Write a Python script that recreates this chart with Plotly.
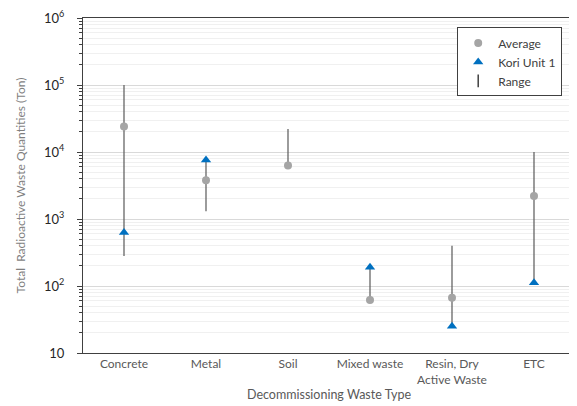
import plotly.graph_objects as go

categories = ["Concrete", "Metal", "Soil", "Mixed waste", "Resin, Dry<br>Active Waste", "ETC"]
average = [24000, 3800, 6300, 62, 67, 2200]
kori_unit1 = [630, 7600, None, 190, 25, 112]
range_low = [280, 1300, 6300, 62, 25, 112]
range_high = [100000, 7600, 22000, 190, 400, 10000]

tick_vals = [10, 100, 1000, 10000, 100000, 1000000]
tick_text = ["10", "10<sup>2</sup>", "10<sup>3</sup>", "10<sup>4</sup>", "10<sup>5</sup>", "10<sup>6</sup>"]

FONT = "Lato, 'Open Sans', sans-serif"

rx, ry = [], []
for c, lo, hi in zip(categories, range_low, range_high):
    rx += [c, c, None]
    ry += [lo, hi, None]

fig = go.Figure()
fig.add_trace(go.Scatter(x=rx, y=ry, mode="lines", line=dict(color="#595959", width=1.2),
                         showlegend=False, hoverinfo="skip"))
fig.add_trace(go.Scatter(x=categories, y=average, mode="markers", name="Average",
                         marker=dict(symbol="circle", size=8, color="#A5A5A5")))
fig.add_trace(go.Scatter(x=categories, y=kori_unit1, mode="markers", name="Kori Unit 1",
                         marker=dict(symbol="triangle-up", size=9, color="#0070C0")))
fig.add_trace(go.Scatter(x=[None], y=[None], mode="markers", name="Range",
                         marker=dict(symbol="line-ns", size=9, color="#404040",
                                     line=dict(color="#404040", width=1.5))))

# page body has an 8px default margin, so the figure is sized/offset to compensate
fig.update_layout(
    width=569, height=398,
    margin=dict(l=75, r=2, t=10, b=53),
    paper_bgcolor="white", plot_bgcolor="white",
    font=dict(family=FONT, size=12, color="#404040"),
    legend=dict(x=0.974, y=0.972, xanchor="right", yanchor="top",
                bgcolor="white", bordercolor="#404040", borderwidth=1,
                font=dict(size=12, color="#404040"), itemwidth=30,
                tracegroupgap=0),
    showlegend=True,
)
fig.update_xaxes(
    type="category", range=[-0.5, 5.5], showline=True, linecolor="#404040", linewidth=1, mirror=True,
    ticks="", showgrid=False, tickfont=dict(size=12, color="#595959"),
    title=dict(text="Decommissioning Waste Type", font=dict(size=12.5, color="#595959"), standoff=4),
    automargin=False,
)
fig.update_yaxes(
    type="log", range=[1, 6], showline=True, linecolor="#404040", linewidth=1,
    tickvals=tick_vals, ticktext=tick_text, ticks="outside", ticklen=5, tickcolor="#404040",
    ticklabelstandoff=10, ticklabeloverflow="allow",
    showgrid=True, gridcolor="#D9D9D9", gridwidth=1,
    minor=dict(ticks="outside", ticklen=3, tickcolor="#404040", showgrid=True,
               gridcolor="#F0F0F0", dtick="D1"),
    tickfont=dict(size=13, color="#262626"),
    title=dict(text="Total  Radioactive Waste Quantities (Ton)", font=dict(size=12, color="#7F7F7F"), standoff=15),
    zeroline=False, automargin=False,
)

fig.write_html("out.html")
